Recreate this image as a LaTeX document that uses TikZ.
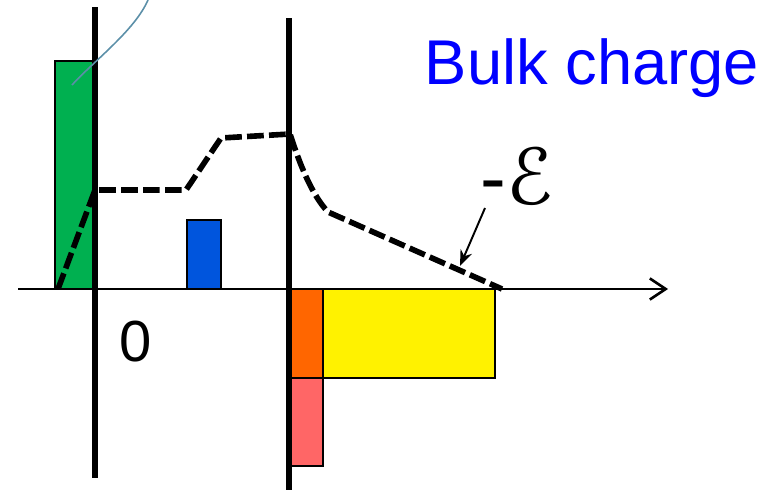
\documentclass[tikz,border=0pt]{standalone}
\usepackage{fontspec}
\setmainfont{Liberation Sans}
\newfontfamily\epsfont{DejaVu Sans}
\usetikzlibrary{arrows.meta}

\begin{document}
\begin{tikzpicture}[x=0.02cm,y=-0.02cm,
wall/.style={line width=3.3pt},
bar/.style={draw=black,line width=1.1pt},
efield/.style={line width=3.2pt,dash pattern=on 9.5pt off 3pt},
axis/.style={line width=1.5pt,-{Straight Barb[length=9pt,width=12pt,line width=1.5pt]}},
label/.style={font=\fontsize{33}{36}\selectfont},
pointer/.style={line width=1.1pt,-{Stealth[length=9pt,width=7pt]}},]
\useasboundingbox (0,0) rectangle (771,490);
% charge bars
\filldraw[bar,fill={rgb,255:red,0;green,176;blue,80}] (55,61) rectangle (95,289);
\filldraw[bar,fill={rgb,255:red,0;green,85;blue,221}] (187,220) rectangle (221,289);
\filldraw[bar,fill={rgb,255:red,255;green,102;blue,102}] (290,378) rectangle (323,466);
\filldraw[bar,fill={rgb,255:red,255;green,102;blue,0}] (290,289) rectangle (323,378);
\filldraw[bar,fill=yellow] (323,289) rectangle (495,378);
% axis and walls
\draw[axis] (18,289) -- (668,289);
\draw[wall] (95,7) -- (95,478);
\draw[wall] (289,18) -- (289,490);
\draw[color={rgb,255:red,91;green,143;blue,168},line width=0.9pt] (72,85) .. controls (95,60) and (135,30) .. (148,0);
% field
\draw[efield] (58,289) -- (95,190) -- (186,190) -- (221,138) -- (290,134)
  .. controls (300,165) and (312,195) .. (328,212) -- (502,289);
\node[label] (zero) at (136,342) {0};
\node[label,text=blue,font=\fontsize{36}{40}\selectfont] (bulk) at (592,68) {Bulk charge};
\node[label,anchor=west,inner sep=0pt,font=\fontsize{44}{48}\selectfont] (eps) at (480,176) {-{\epsfont\itshape ℰ}};
\coordinate (epstip) at (460,266);
\draw[pointer] (485,208) -- (epstip);
\end{tikzpicture}
\end{document}
